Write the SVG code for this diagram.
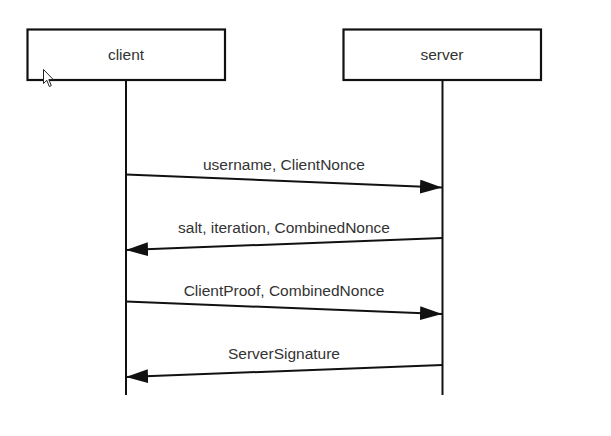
<svg xmlns="http://www.w3.org/2000/svg" width="611" height="436" viewBox="0 0 611 436">
<style>
.box{fill:#fff;stroke:#111;stroke-width:2.2}
.life{stroke:#111;stroke-width:2;fill:none}
.msg{stroke:#111;stroke-width:2;fill:none}
.lbl{font-family:"Liberation Sans",Arial,sans-serif;font-size:15.5px;fill:#333;text-anchor:middle}
</style>
<defs>
<marker id="ah" markerWidth="22" markerHeight="14" refX="22" refY="7" orient="auto" markerUnits="userSpaceOnUse">
<path d="M0,0 L22,7 L0,14 Z" fill="#111"/>
</marker>
</defs>
<rect width="611" height="436" fill="#fff"/>
<g id="client">
<rect class="box" x="27.5" y="29.5" width="197.5" height="50.5"/>
<text class="lbl" x="126" y="59.5">client</text>
</g>
<g id="server">
<rect class="box" x="343.5" y="29.5" width="197.5" height="50.5"/>
<text class="lbl" x="442" y="59.5">server</text>
</g>
<g id="lifelines">
<line class="life" x1="126" y1="80" x2="126" y2="395"/>
<line class="life" x1="442.5" y1="80" x2="442.5" y2="395"/>
</g>
<g id="connectors">
<line class="msg" x1="126" y1="174.5" x2="442" y2="187.5" marker-end="url(#ah)"/>
<line class="msg" x1="442.5" y1="238" x2="126" y2="250" marker-end="url(#ah)"/>
<line class="msg" x1="126" y1="301.5" x2="442" y2="314" marker-end="url(#ah)"/>
<line class="msg" x1="442.5" y1="365" x2="126" y2="377" marker-end="url(#ah)"/>
</g>
<g id="labels">
<text class="lbl" x="284" y="169.5">username, ClientNonce</text>
<text class="lbl" x="284" y="233">salt, iteration, CombinedNonce</text>
<text class="lbl" x="284" y="296">ClientProof, CombinedNonce</text>
<text class="lbl" x="284" y="359">ServerSignature</text>
</g>
<g id="cursor">
<path d="M43.5,69.5 L43.5,83.5 L46.8,80.3 L49.3,86.5 L51.3,85.6 L48.8,79.6 L53.3,79.6 Z" fill="#fff" stroke="#222" stroke-width="1" stroke-linejoin="round"/>
</g>
</svg>
